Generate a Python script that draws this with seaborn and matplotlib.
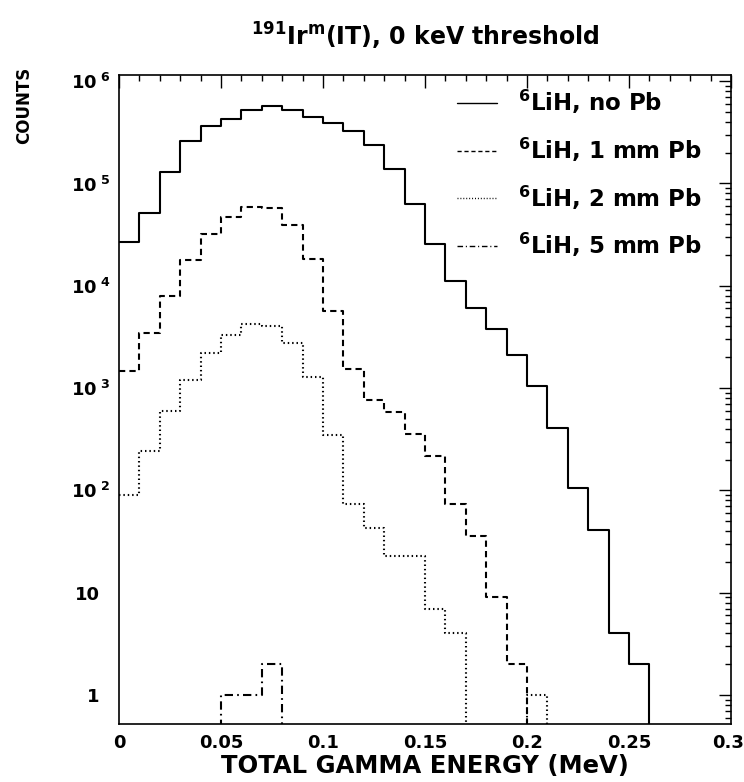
import numpy as np
import pandas as pd
import matplotlib
matplotlib.use("Agg")
import matplotlib.pyplot as plt
import matplotlib.transforms as mtransforms
import seaborn as sns
from matplotlib.ticker import FixedLocator, MultipleLocator, LogLocator, NullFormatter

# ---------------- data ----------------
bin_edges = [0.00, 0.01, 0.02, 0.03, 0.04, 0.05, 0.06, 0.07, 0.08, 0.09,
             0.10, 0.11, 0.12, 0.13, 0.14, 0.15, 0.16, 0.17, 0.18, 0.19,
             0.20, 0.21, 0.22, 0.23, 0.24, 0.25, 0.26, 0.27, 0.28, 0.29, 0.30]

lih_no_pb = [26600, 51000, 129000, 263000, 362000, 427000, 522000, 576000, 522000, 444000,
             388000, 328000, 236000, 139000, 63500, 25800, 11200, 6030, 3780, 2110,
             1048, 410, 105, 41, 4, 2, 0, 0, 0, 0]
lih_1mm = [1470, 3480, 8000, 17700, 31800, 47100, 59300, 57900, 39600, 18100,
           5650, 1540, 760, 590, 358, 215, 73, 36, 9, 2,
           0, 0, 0, 0, 0, 0, 0, 0, 0, 0]
lih_2mm = [90, 243, 597, 1190, 2220, 3300, 4230, 4040, 2780, 1290,
           348, 73, 43, 23, 23, 7, 4, 0, 0, 0,
           1, 0, 0, 0, 0, 0, 0, 0, 0, 0]
lih_5mm = [0, 0, 0, 0, 0, 1, 1, 2, 0, 0,
           0, 0, 0, 0, 0, 0, 0, 0, 0, 0,
           0, 0, 0, 0, 0, 0, 0, 0, 0, 0]

series_labels = [r"$^{6}$LiH, no Pb", r"$^{6}$LiH, 1 mm Pb",
                 r"$^{6}$LiH, 2 mm Pb", r"$^{6}$LiH, 5 mm Pb"]
series_values = [lih_no_pb, lih_1mm, lih_2mm, lih_5mm]

x_tick_values = [0, 0.05, 0.1, 0.15, 0.2, 0.25, 0.3]
x_tick_labels = ["0", "0.05", "0.1", "0.15", "0.2", "0.25", "0.3"]
y_tick_values = [1, 10, 1e2, 1e3, 1e4, 1e5, 1e6]
y_tick_labels = ["1", "10", r"$10^{\ 2}$", r"$10^{\ 3}$",
                 r"$10^{\ 4}$", r"$10^{\ 5}$", r"$10^{\ 6}$"]

title_text = r"$^{191}$Ir$^{m}$(IT), 0 keV threshold"
x_label = "TOTAL GAMMA ENERGY (MeV)"
y_label = "COUNTS"

# ---------------- style ----------------
sns.set_style("white")
plt.rcParams["font.family"] = ["DejaVu Sans"]
plt.rcParams["font.weight"] = "bold"
plt.rcParams["mathtext.default"] = "bf"
plt.rcParams["mathtext.fontset"] = "dejavusans"
for k in ["text.color", "axes.labelcolor", "xtick.color", "ytick.color", "axes.edgecolor"]:
    plt.rcParams[k] = "black"

line_styles = ["-", (0, (3.0, 2.0)), (0, (0.7, 1.4)), (0, (4.0, 2.0, 0.8, 2.0))]

fig = plt.figure(figsize=(7.44, 7.82), dpi=100)
ax = fig.add_axes([119 / 744, 1 - 724 / 782, (731 - 119) / 744, (724 - 75) / 782])
ax.set_yscale("log", nonpositive="clip")

for lab, vals, ls in zip(series_labels, series_values, line_styles):
    df = pd.DataFrame({"x": bin_edges, "y": list(vals) + [vals[-1]]})
    sns.lineplot(data=df, x="x", y="y", ax=ax, estimator=None, sort=False,
                 drawstyle="steps-post", color="black", linewidth=1.5,
                 linestyle=ls, label=lab)

ax.set_xlim(0, 0.3)
ax.set_ylim(0.52, 1.15e6)

ax.xaxis.set_major_locator(FixedLocator(x_tick_values))
ax.set_xticklabels(x_tick_labels)
ax.xaxis.set_minor_locator(MultipleLocator(0.01))
ax.yaxis.set_major_locator(FixedLocator(y_tick_values))
ax.set_yticklabels(y_tick_labels)
ax.yaxis.set_minor_locator(LogLocator(base=10, subs=np.arange(2, 10) * 1.0, numticks=20))
ax.yaxis.set_minor_formatter(NullFormatter())

ax.tick_params(which="both", direction="in", top=True, right=True, color="black",
               width=1.0)
ax.tick_params(which="major", length=9, labelsize=13)
ax.tick_params(axis="x", which="major", pad=7)
ax.tick_params(axis="y", which="major", pad=6)
ax.tick_params(which="minor", length=4.5)
for sp in ax.spines.values():
    sp.set_linewidth(1.2)
    sp.set_color("black")

# plain labels ("1", "10") sit left of the exponent column, as in the original
shift = mtransforms.ScaledTranslation(-11 / 100, 0, fig.dpi_scale_trans)
for t in ax.get_yticklabels():
    if "^" not in t.get_text():
        t.set_transform(t.get_transform() + shift)
# keep the last x label inside the canvas
xl = ax.get_xticklabels()[-1]
xl.set_transform(xl.get_transform() + mtransforms.ScaledTranslation(-3 / 100, 0, fig.dpi_scale_trans))

ax.set_xlabel(x_label, fontsize=17.5, fontweight="bold")
ax.xaxis.set_label_coords(0.5, -0.046)
ax.set_ylabel(y_label, fontsize=12, fontweight="bold")
ax.yaxis.set_label_coords(-0.1405, 0.953)

fig.text(425 / 744, 1 - 46 / 782, title_text, ha="center", va="baseline",
         fontsize=17, fontweight="bold")

leg = ax.legend(loc="upper left", bbox_to_anchor=(457 / 744, 1 - 88 / 782),
                bbox_transform=fig.transFigure, frameon=False, fontsize=16.5,
                handlelength=1.75, handletextpad=0.9, labelspacing=0.85,
                borderpad=0, borderaxespad=0)
for h in leg.get_lines():
    h.set_linewidth(1.0)

fig.savefig("out.png", dpi=100)
